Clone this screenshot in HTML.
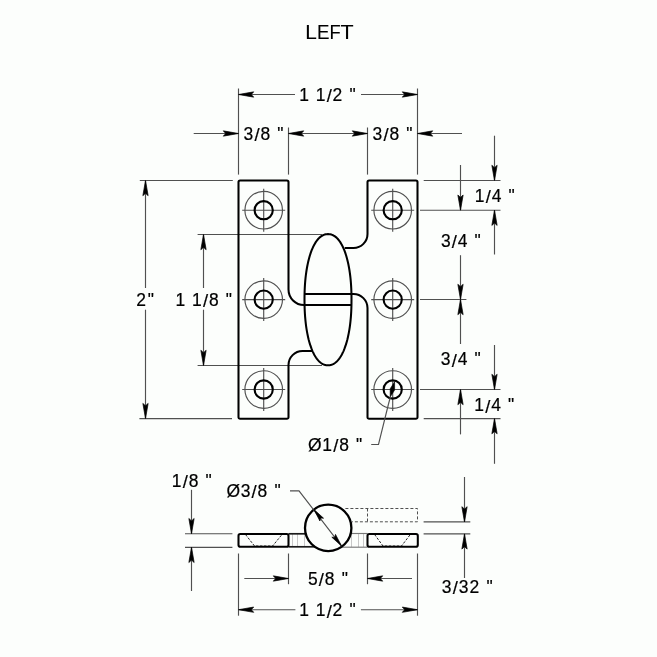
<!DOCTYPE html>
<html><head><meta charset="utf-8"><style>
html,body{margin:0;padding:0;background:#fcfefc;width:657px;height:657px;overflow:hidden}
svg{display:block;will-change:transform}
text{font-family:"Liberation Sans",sans-serif;fill:#000;stroke:#000;stroke-width:0.2px}
</style></head><body>
<svg width="657" height="657" viewBox="0 0 657 657">
<rect width="657" height="657" fill="#fcfefc"/>
<g><text transform="translate(311.5,38.9) scale(1.0,1)" x="-6.29" y="0" font-size="20.8" style="stroke-width:0.1px">L</text><text transform="translate(323.6,38.9) scale(0.9,1)" x="-7.34" y="0" font-size="20.8" style="stroke-width:0.1px">E</text><text transform="translate(335.55,38.9) scale(0.88,1)" x="-6.79" y="0" font-size="20.8" style="stroke-width:0.1px">F</text><text transform="translate(347.1,38.9) scale(1.03,1)" x="-6.35" y="0" font-size="20.8" style="stroke-width:0.1px">T</text></g>
<line x1="238.5" y1="88.5" x2="238.5" y2="174.6" stroke="#505050" stroke-width="1.15"/>
<line x1="417.5" y1="88.5" x2="417.5" y2="174.6" stroke="#505050" stroke-width="1.15"/>
<line x1="295" y1="94.5" x2="238.5" y2="94.5" stroke="#505050" stroke-width="1.15"/>
<polygon points="238.50,94.50 253.70,91.85 251.30,94.50 253.70,97.15" fill="#000" stroke="#000" stroke-width="0.7" stroke-linejoin="round"/>
<line x1="361" y1="94.5" x2="417.5" y2="94.5" stroke="#505050" stroke-width="1.15"/>
<polygon points="417.50,94.50 402.30,97.15 404.70,94.50 402.30,91.85" fill="#000" stroke="#000" stroke-width="0.7" stroke-linejoin="round"/>
<text x="299.19 304.19 315.73 326.69 332.46 337.46 349.47" y="100.60 100.60 100.60 101.90 100.60 100.60 100.60" font-size="17.45" xml:space="preserve">1 1<tspan font-size="18.4">/</tspan>2 &quot;</text>
<line x1="193.7" y1="133.5" x2="238.5" y2="133.5" stroke="#505050" stroke-width="1.15"/>
<polygon points="238.50,133.50 223.30,136.15 225.70,133.50 223.30,130.85" fill="#000" stroke="#000" stroke-width="0.7" stroke-linejoin="round"/>
<line x1="288.5" y1="127.5" x2="288.5" y2="174.6" stroke="#505050" stroke-width="1.15"/>
<line x1="367.5" y1="127.5" x2="367.5" y2="174.6" stroke="#505050" stroke-width="1.15"/>
<line x1="288.5" y1="133.5" x2="367.5" y2="133.5" stroke="#505050" stroke-width="1.15"/>
<polygon points="288.50,133.50 303.70,130.85 301.30,133.50 303.70,136.15" fill="#000" stroke="#000" stroke-width="0.7" stroke-linejoin="round"/>
<polygon points="367.50,133.50 352.30,136.15 354.70,133.50 352.30,130.85" fill="#000" stroke="#000" stroke-width="0.7" stroke-linejoin="round"/>
<line x1="462" y1="133.5" x2="417.5" y2="133.5" stroke="#505050" stroke-width="1.15"/>
<polygon points="417.50,133.50 432.70,130.85 430.30,133.50 432.70,136.15" fill="#000" stroke="#000" stroke-width="0.7" stroke-linejoin="round"/>
<text x="243.56 254.41 260.41 265.41 277.19" y="139.50 140.80 139.50 139.50 139.50" font-size="17.45" xml:space="preserve">3<tspan font-size="18.4">/</tspan>8 &quot;</text>
<text x="372.61 383.46 389.46 394.46 406.24" y="139.50 140.80 139.50 139.50 139.50" font-size="17.45" xml:space="preserve">3<tspan font-size="18.4">/</tspan>8 &quot;</text>
<line x1="423.7" y1="180.5" x2="500.5" y2="180.5" stroke="#505050" stroke-width="1.15"/>
<line x1="420" y1="210.2" x2="500.5" y2="210.2" stroke="#505050" stroke-width="1.15"/>
<line x1="420" y1="299.5" x2="466.4" y2="299.5" stroke="#505050" stroke-width="1.15"/>
<line x1="420" y1="389.5" x2="500.5" y2="389.5" stroke="#505050" stroke-width="1.15"/>
<line x1="423.7" y1="418.6" x2="500.5" y2="418.6" stroke="#505050" stroke-width="1.15"/>
<line x1="494.5" y1="135.7" x2="494.5" y2="180.5" stroke="#505050" stroke-width="1.15"/>
<polygon points="494.50,180.50 491.85,165.30 494.50,167.70 497.15,165.30" fill="#000" stroke="#000" stroke-width="0.7" stroke-linejoin="round"/>
<line x1="494.5" y1="254.5" x2="494.5" y2="210.2" stroke="#505050" stroke-width="1.15"/>
<polygon points="494.50,210.20 497.15,225.40 494.50,223.00 491.85,225.40" fill="#000" stroke="#000" stroke-width="0.7" stroke-linejoin="round"/>
<line x1="494.5" y1="345" x2="494.5" y2="389.5" stroke="#505050" stroke-width="1.15"/>
<polygon points="494.50,389.50 491.85,374.30 494.50,376.70 497.15,374.30" fill="#000" stroke="#000" stroke-width="0.7" stroke-linejoin="round"/>
<line x1="494.5" y1="463.8" x2="494.5" y2="418.6" stroke="#505050" stroke-width="1.15"/>
<polygon points="494.50,418.60 497.15,433.80 494.50,431.40 491.85,433.80" fill="#000" stroke="#000" stroke-width="0.7" stroke-linejoin="round"/>
<line x1="460.5" y1="165" x2="460.5" y2="210.2" stroke="#505050" stroke-width="1.15"/>
<polygon points="460.50,210.20 457.85,195.00 460.50,197.40 463.15,195.00" fill="#000" stroke="#000" stroke-width="0.7" stroke-linejoin="round"/>
<line x1="460.5" y1="255.2" x2="460.5" y2="299.5" stroke="#505050" stroke-width="1.15"/>
<polygon points="460.50,299.50 457.85,284.30 460.50,286.70 463.15,284.30" fill="#000" stroke="#000" stroke-width="0.7" stroke-linejoin="round"/>
<line x1="460.5" y1="344" x2="460.5" y2="299.5" stroke="#505050" stroke-width="1.15"/>
<polygon points="460.50,299.50 463.15,314.70 460.50,312.30 457.85,314.70" fill="#000" stroke="#000" stroke-width="0.7" stroke-linejoin="round"/>
<line x1="460.5" y1="434.4" x2="460.5" y2="389.5" stroke="#505050" stroke-width="1.15"/>
<polygon points="460.50,389.50 463.15,404.70 460.50,402.30 457.85,404.70" fill="#000" stroke="#000" stroke-width="0.7" stroke-linejoin="round"/>
<text x="474.71 485.66 491.66 496.66 508.44" y="202.10 203.40 202.10 202.10 202.10" font-size="17.45" xml:space="preserve">1<tspan font-size="18.4">/</tspan>4 &quot;</text>
<text x="440.91 451.76 457.76 462.76 474.54" y="246.90 248.20 246.90 246.90 246.90" font-size="17.45" xml:space="preserve">3<tspan font-size="18.4">/</tspan>4 &quot;</text>
<text x="440.86 451.71 457.71 462.71 474.49" y="365.20 366.50 365.20 365.20 365.20" font-size="17.45" xml:space="preserve">3<tspan font-size="18.4">/</tspan>4 &quot;</text>
<text x="474.36 485.31 491.31 496.31 508.09" y="411.40 412.70 411.40 411.40 411.40" font-size="17.45" xml:space="preserve">1<tspan font-size="18.4">/</tspan>4 &quot;</text>
<line x1="139.8" y1="180.5" x2="232.8" y2="180.5" stroke="#505050" stroke-width="1.15"/>
<line x1="139.4" y1="418.6" x2="232" y2="418.6" stroke="#505050" stroke-width="1.15"/>
<line x1="197.6" y1="234.5" x2="322" y2="234.5" stroke="#505050" stroke-width="1.15"/>
<line x1="197.6" y1="365.5" x2="322" y2="365.5" stroke="#505050" stroke-width="1.15"/>
<line x1="145.5" y1="288" x2="145.5" y2="180.5" stroke="#505050" stroke-width="1.15"/>
<polygon points="145.50,180.50 148.15,195.70 145.50,193.30 142.85,195.70" fill="#000" stroke="#000" stroke-width="0.7" stroke-linejoin="round"/>
<line x1="145.5" y1="309.7" x2="145.5" y2="418.6" stroke="#505050" stroke-width="1.15"/>
<polygon points="145.50,418.60 142.85,403.40 145.50,405.80 148.15,403.40" fill="#000" stroke="#000" stroke-width="0.7" stroke-linejoin="round"/>
<line x1="203.5" y1="288" x2="203.5" y2="234.5" stroke="#505050" stroke-width="1.15"/>
<polygon points="203.50,234.50 206.15,249.70 203.50,247.30 200.85,249.70" fill="#000" stroke="#000" stroke-width="0.7" stroke-linejoin="round"/>
<line x1="203.5" y1="309.7" x2="203.5" y2="365.5" stroke="#505050" stroke-width="1.15"/>
<polygon points="203.50,365.50 200.85,350.30 203.50,352.70 206.15,350.30" fill="#000" stroke="#000" stroke-width="0.7" stroke-linejoin="round"/>
<text x="136.23 147.72" y="305.80 305.80" font-size="17.45" xml:space="preserve">2&quot;</text>
<text x="175.39 180.39 191.93 202.89 208.89 213.89 225.67" y="305.80 305.80 305.80 307.10 305.80 305.80 305.80" font-size="17.45" xml:space="preserve">1 1<tspan font-size="18.4">/</tspan>8 &quot;</text>
<circle cx="263.7" cy="210.2" r="18.8" fill="none" stroke="#505050" stroke-width="1.15"/>
<line x1="242.2" y1="210.2" x2="285.2" y2="210.2" stroke="#505050" stroke-width="1.15"/>
<line x1="263.7" y1="188.7" x2="263.7" y2="231.7" stroke="#505050" stroke-width="1.15"/>
<circle cx="263.7" cy="210.2" r="9.1" fill="none" stroke="#000" stroke-width="2.1"/>
<circle cx="263.7" cy="299.6" r="18.8" fill="none" stroke="#505050" stroke-width="1.15"/>
<line x1="242.2" y1="299.6" x2="285.2" y2="299.6" stroke="#505050" stroke-width="1.15"/>
<line x1="263.7" y1="278.1" x2="263.7" y2="321.1" stroke="#505050" stroke-width="1.15"/>
<circle cx="263.7" cy="299.6" r="9.1" fill="none" stroke="#000" stroke-width="2.1"/>
<circle cx="263.7" cy="389.5" r="18.8" fill="none" stroke="#505050" stroke-width="1.15"/>
<line x1="242.2" y1="389.5" x2="285.2" y2="389.5" stroke="#505050" stroke-width="1.15"/>
<line x1="263.7" y1="368.0" x2="263.7" y2="411.0" stroke="#505050" stroke-width="1.15"/>
<circle cx="263.7" cy="389.5" r="9.1" fill="none" stroke="#000" stroke-width="2.1"/>
<circle cx="392.7" cy="210.2" r="18.8" fill="none" stroke="#505050" stroke-width="1.15"/>
<line x1="371.2" y1="210.2" x2="414.2" y2="210.2" stroke="#505050" stroke-width="1.15"/>
<line x1="392.7" y1="188.7" x2="392.7" y2="231.7" stroke="#505050" stroke-width="1.15"/>
<circle cx="392.7" cy="210.2" r="9.1" fill="none" stroke="#000" stroke-width="2.1"/>
<circle cx="392.7" cy="299.6" r="18.8" fill="none" stroke="#505050" stroke-width="1.15"/>
<line x1="371.2" y1="299.6" x2="414.2" y2="299.6" stroke="#505050" stroke-width="1.15"/>
<line x1="392.7" y1="278.1" x2="392.7" y2="321.1" stroke="#505050" stroke-width="1.15"/>
<circle cx="392.7" cy="299.6" r="9.1" fill="none" stroke="#000" stroke-width="2.1"/>
<circle cx="392.7" cy="389.5" r="18.8" fill="none" stroke="#505050" stroke-width="1.15"/>
<line x1="371.2" y1="389.5" x2="414.2" y2="389.5" stroke="#505050" stroke-width="1.15"/>
<line x1="392.7" y1="368.0" x2="392.7" y2="411.0" stroke="#505050" stroke-width="1.15"/>
<circle cx="392.7" cy="389.5" r="9.1" fill="none" stroke="#000" stroke-width="2.1"/>
<path d="M313,351 L302.5,351 A14,14 0 0 0 288.5,365 L288.5,417.2 A1.6,1.6 0 0 1 286.9,418.8 L240.1,418.8 A1.6,1.6 0 0 1 238.5,417.2 L238.5,182.0 A1.6,1.6 0 0 1 240.1,180.4 L286.9,180.4 A1.6,1.6 0 0 1 288.5,182.0 L288.5,289.5 A15.5,15.5 0 0 0 304.0,305 L351.5,305" fill="none" stroke="#000" stroke-width="2.05" stroke-linejoin="round"/>
<path d="M344.7,248 L353.5,248 A14,14 0 0 0 367.5,234 L367.5,182.0 A1.6,1.6 0 0 1 369.1,180.4 L415.9,180.4 A1.6,1.6 0 0 1 417.5,182.0 L417.5,417.2 A1.6,1.6 0 0 1 415.9,418.8 L369.1,418.8 A1.6,1.6 0 0 1 367.5,417.2 L367.5,308 A14,14 0 0 0 353.5,294 L304.4,294" fill="none" stroke="#000" stroke-width="2.05" stroke-linejoin="round"/>
<polygon points="351.50,299.70 351.48,302.93 351.43,305.85 351.35,308.65 351.23,311.38 351.08,314.04 350.90,316.65 350.68,319.20 350.43,321.70 350.15,324.15 349.83,326.54 349.49,328.88 349.11,331.17 348.70,333.40 348.26,335.56 347.79,337.67 347.30,339.72 346.77,341.69 346.21,343.61 345.63,345.45 345.02,347.22 344.39,348.92 343.73,350.55 343.04,352.09 342.33,353.56 341.60,354.95 340.85,356.26 340.07,357.48 339.27,358.62 338.45,359.68 337.62,360.64 336.76,361.52 335.88,362.31 334.99,363.01 334.07,363.61 333.14,364.13 332.18,364.55 331.21,364.88 330.20,365.11 329.16,365.25 328.00,365.30 326.84,365.25 325.80,365.11 324.79,364.88 323.82,364.55 322.86,364.13 321.93,363.61 321.01,363.01 320.12,362.31 319.24,361.52 318.38,360.64 317.55,359.68 316.73,358.62 315.93,357.48 315.15,356.26 314.40,354.95 313.67,353.56 312.96,352.09 312.27,350.55 311.61,348.92 310.98,347.22 310.37,345.45 309.79,343.61 309.23,341.69 308.70,339.72 308.21,337.67 307.74,335.56 307.30,333.40 306.89,331.17 306.51,328.88 306.17,326.54 305.85,324.15 305.57,321.70 305.32,319.20 305.10,316.65 304.92,314.04 304.77,311.38 304.65,308.65 304.57,305.85 304.52,302.93 304.50,299.70 304.52,296.47 304.57,293.55 304.65,290.75 304.77,288.02 304.92,285.36 305.10,282.75 305.32,280.20 305.57,277.70 305.85,275.25 306.17,272.86 306.51,270.52 306.89,268.23 307.30,266.00 307.74,263.84 308.21,261.73 308.70,259.68 309.23,257.71 309.79,255.79 310.37,253.95 310.98,252.18 311.61,250.48 312.27,248.85 312.96,247.31 313.67,245.84 314.40,244.45 315.15,243.14 315.93,241.92 316.73,240.78 317.55,239.72 318.38,238.76 319.24,237.88 320.12,237.09 321.01,236.39 321.93,235.79 322.86,235.27 323.82,234.85 324.79,234.52 325.80,234.29 326.84,234.15 328.00,234.10 329.16,234.15 330.20,234.29 331.21,234.52 332.18,234.85 333.14,235.27 334.07,235.79 334.99,236.39 335.88,237.09 336.76,237.88 337.62,238.76 338.45,239.72 339.27,240.78 340.07,241.92 340.85,243.14 341.60,244.45 342.33,245.84 343.04,247.31 343.73,248.85 344.39,250.48 345.02,252.18 345.63,253.95 346.21,255.79 346.77,257.71 347.30,259.68 347.79,261.73 348.26,263.84 348.70,266.00 349.11,268.23 349.49,270.52 349.83,272.86 350.15,275.25 350.43,277.70 350.68,280.20 350.90,282.75 351.08,285.36 351.23,288.02 351.35,290.75 351.43,293.55 351.48,296.47" fill="none" stroke="#000" stroke-width="2.05" stroke-linejoin="round"/>
<polyline points="371.2,444.5 378.5,444.5 388.5,404" fill="none" stroke="#505050" stroke-width="1.15"/>
<polygon points="394.6,381.8 390.19,388.76 390.2,397.0 394.61,390.04" fill="#000" stroke="#000" stroke-width="0.6" stroke-linejoin="round"/>
<line x1="388.5" y1="404" x2="390.5" y2="396.5" stroke="#505050" stroke-width="1.15"/>
<text x="308.06 322.26 333.21 339.21 344.21 355.99" y="450.80 450.80 452.10 450.80 450.80 450.80" font-size="17.45" xml:space="preserve">Ø1<tspan font-size="18.4">/</tspan>8 &quot;</text>
<g stroke="#c8c8c8" stroke-width="1"><line x1="292.5" y1="534" x2="292.5" y2="547"/><line x1="297.5" y1="534" x2="297.5" y2="547"/><line x1="304.5" y1="534" x2="304.5" y2="547"/><line x1="351.5" y1="534" x2="351.5" y2="547"/><line x1="358.5" y1="534" x2="358.5" y2="547"/><line x1="363.5" y1="534" x2="363.5" y2="547"/></g>
<line x1="288.5" y1="533.8" x2="310" y2="533.8" stroke="#1a1a1a" stroke-width="1.7"/>
<line x1="288.5" y1="546.8" x2="315" y2="546.8" stroke="#1a1a1a" stroke-width="1.7"/>
<line x1="346" y1="533.5" x2="367.5" y2="533.5" stroke="#777" stroke-width="1.15"/>
<line x1="341" y1="547.2" x2="367.5" y2="547.2" stroke="#777" stroke-width="1.15"/>
<path d="M345.4,508.5 L417.5,508.5 L417.5,521.8 L352,521.8 M367.5,508.5 L367.5,521.8" fill="none" stroke="#505050" stroke-width="1" stroke-dasharray="3,2"/>
<path d="M245.5,534.5 L254.5,546 L272.6,546 L282,534.5 M374.6,534.5 L383,546 L401.5,546 L410.3,534.5" fill="none" stroke="#222" stroke-width="1" stroke-dasharray="2.5,1.5"/>
<rect x="238.5" y="534" width="50" height="12.8" rx="1.8" fill="none" stroke="#000" stroke-width="2.05" stroke-linejoin="round"/>
<rect x="367.5" y="534" width="50.3" height="12.8" rx="1.8" fill="none" stroke="#000" stroke-width="2.05" stroke-linejoin="round"/>
<circle cx="328.2" cy="527.9" r="23.2" fill="#fcfefc" stroke="#000" stroke-width="2.3"/>
<polyline points="290,490.8 299,490.8 341.6,546.1" fill="none" stroke="#505050" stroke-width="1.15"/>
<polygon points="313.80,509.30 323.56,518.19 320.51,518.01 319.91,521.00" fill="#000" stroke="#000" stroke-width="0.7" stroke-linejoin="round"/>
<polygon points="341.60,546.10 331.84,537.21 334.89,537.39 335.49,534.40" fill="#000" stroke="#000" stroke-width="0.7" stroke-linejoin="round"/>
<text x="226.46 240.76 251.61 257.61 262.61 274.39" y="497.00 497.00 498.30 497.00 497.00 497.00" font-size="17.45" xml:space="preserve">Ø3<tspan font-size="18.4">/</tspan>8 &quot;</text>
<line x1="185" y1="533.7" x2="232.4" y2="533.7" stroke="#505050" stroke-width="1.15"/>
<line x1="185" y1="547.3" x2="232.4" y2="547.3" stroke="#505050" stroke-width="1.15"/>
<line x1="191.5" y1="489.8" x2="191.5" y2="533.7" stroke="#505050" stroke-width="1.15"/>
<polygon points="191.50,533.70 188.85,518.50 191.50,520.90 194.15,518.50" fill="#000" stroke="#000" stroke-width="0.7" stroke-linejoin="round"/>
<line x1="191.5" y1="591" x2="191.5" y2="547.3" stroke="#505050" stroke-width="1.15"/>
<polygon points="191.50,547.30 194.15,562.50 191.50,560.10 188.85,562.50" fill="#000" stroke="#000" stroke-width="0.7" stroke-linejoin="round"/>
<text x="171.71 182.66 188.67 193.67 205.44" y="487.00 488.30 487.00 487.00 487.00" font-size="17.45" xml:space="preserve">1<tspan font-size="18.4">/</tspan>8 &quot;</text>
<line x1="423.6" y1="521.9" x2="470.3" y2="521.9" stroke="#505050" stroke-width="1.15"/>
<line x1="423.6" y1="533.9" x2="470.3" y2="533.9" stroke="#505050" stroke-width="1.15"/>
<line x1="464.5" y1="477" x2="464.5" y2="521.9" stroke="#505050" stroke-width="1.15"/>
<polygon points="464.50,521.90 461.85,506.70 464.50,509.10 467.15,506.70" fill="#000" stroke="#000" stroke-width="0.7" stroke-linejoin="round"/>
<line x1="464.5" y1="578" x2="464.5" y2="533.9" stroke="#505050" stroke-width="1.15"/>
<polygon points="464.50,533.90 467.15,549.10 464.50,546.70 461.85,549.10" fill="#000" stroke="#000" stroke-width="0.7" stroke-linejoin="round"/>
<text x="441.84 452.69 458.72 469.50 474.50 486.50" y="593.00 594.30 593.00 593.00 593.00 593.00" font-size="17.45" xml:space="preserve">3<tspan font-size="18.4">/</tspan>32 &quot;</text>
<line x1="238.5" y1="553.5" x2="238.5" y2="615.7" stroke="#505050" stroke-width="1.15"/>
<line x1="417.5" y1="553.5" x2="417.5" y2="615.7" stroke="#505050" stroke-width="1.15"/>
<line x1="288.5" y1="553.5" x2="288.5" y2="584.2" stroke="#505050" stroke-width="1.15"/>
<line x1="367.5" y1="553.5" x2="367.5" y2="584.2" stroke="#505050" stroke-width="1.15"/>
<line x1="244.3" y1="578.5" x2="288.5" y2="578.5" stroke="#505050" stroke-width="1.15"/>
<polygon points="288.50,578.50 273.30,581.15 275.70,578.50 273.30,575.85" fill="#000" stroke="#000" stroke-width="0.7" stroke-linejoin="round"/>
<line x1="412" y1="578.5" x2="367.5" y2="578.5" stroke="#505050" stroke-width="1.15"/>
<polygon points="367.50,578.50 382.70,575.85 380.30,578.50 382.70,581.15" fill="#000" stroke="#000" stroke-width="0.7" stroke-linejoin="round"/>
<text x="307.91 318.85 324.85 329.85 341.63" y="585.00 586.30 585.00 585.00 585.00" font-size="17.45" xml:space="preserve">5<tspan font-size="18.4">/</tspan>8 &quot;</text>
<line x1="295.4" y1="609.7" x2="238.5" y2="609.7" stroke="#505050" stroke-width="1.15"/>
<polygon points="238.50,609.70 253.70,607.05 251.30,609.70 253.70,612.35" fill="#000" stroke="#000" stroke-width="0.7" stroke-linejoin="round"/>
<line x1="360.9" y1="609.7" x2="417.5" y2="609.7" stroke="#505050" stroke-width="1.15"/>
<polygon points="417.50,609.70 402.30,612.35 404.70,609.70 402.30,607.05" fill="#000" stroke="#000" stroke-width="0.7" stroke-linejoin="round"/>
<text x="299.19 304.19 315.73 326.69 332.46 337.46 349.47" y="616.40 616.40 616.40 617.70 616.40 616.40 616.40" font-size="17.45" xml:space="preserve">1 1<tspan font-size="18.4">/</tspan>2 &quot;</text>
</svg>
</body></html>
